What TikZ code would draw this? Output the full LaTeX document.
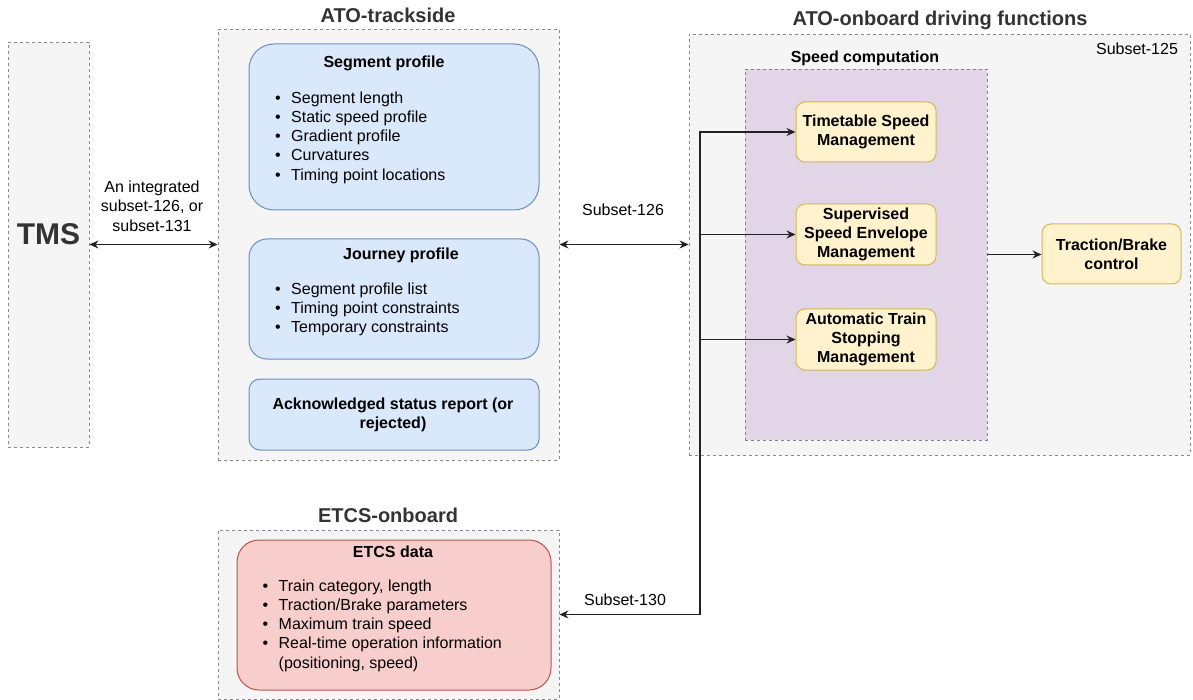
\documentclass[tikz,border=0pt]{standalone}
\usepackage{fontspec}
\setmainfont{Liberation Sans}
\usetikzlibrary{arrows.meta,fit}

\definecolor{cfill}{HTML}{F5F5F5}
\definecolor{cline}{HTML}{8A8A8A}
\definecolor{ctext}{HTML}{333333}
\definecolor{bfill}{HTML}{DAE8FC}
\definecolor{bline}{HTML}{6C8EBF}
\definecolor{pfill}{HTML}{E1D5E7}
\definecolor{pline}{HTML}{9673A6}
\definecolor{yfill}{HTML}{FFF2CC}
\definecolor{yline}{HTML}{D6B656}
\definecolor{rfill}{HTML}{F8CECC}
\definecolor{rline}{HTML}{B85450}
\definecolor{wire}{HTML}{222222}

\newcommand{\lbul}{\makebox[16pt][l]{\textbullet}}

\tikzset{
  container/.style={draw=cline, fill=cfill, dash pattern=on 3pt off 3pt,
    line width=0.9pt, inner sep=0pt},
  ctitle/.style={font=\fontsize{20}{24}\selectfont\bfseries, text=ctext, inner sep=0pt},
  panel/.style={line width=1pt, inner sep=0pt},
  bluebox/.style={panel, draw=bline, fill=bfill},
  redbox/.style={panel, draw=rline, fill=rfill},
  yellowbox/.style={panel, draw=yline, fill=yfill, rounded corners=9pt,
    font=\fontsize{16}{19.3}\selectfont\bfseries, align=center},
  purplebox/.style={draw=pline, fill=pfill, dash pattern=on 3pt off 3pt,
    line width=0.9pt, inner sep=0pt},
  btitle/.style={font=\fontsize{16}{19.3}\selectfont\bfseries, inner sep=0pt},
  item/.style={font=\fontsize{16}{19.3}\selectfont, anchor=west, inner sep=0pt,
    text height=11.5pt, text depth=3.4pt},
  plain/.style={font=\fontsize{16}{19.3}\selectfont, inner sep=0pt, align=center},
  conn/.style={draw=wire, line width=1.2pt, -{Stealth[length=9pt,width=8pt,inset=3pt]}},
  biconn/.style={draw=wire, line width=1.2pt,
    {Stealth[length=9pt,width=8pt,inset=3pt]}-{Stealth[length=9pt,width=8pt,inset=3pt]}},
}

\begin{document}
\begin{tikzpicture}[x=1pt,y=-1pt]
\useasboundingbox (0,0) rectangle (1193,700);

% ---- TMS ----
\node[container, fit={(8,42) (89,447)}, font=\fontsize{30}{36}\selectfont\bfseries,
  text=ctext] (tms) {TMS};

% ---- ATO-trackside ----
\node[container, fit={(218,29) (559,460)}] (trk) {};
\node[ctitle] (trkT) at (388,15) {ATO-trackside};

\node[bluebox, rounded corners=25pt, fit={(249,44) (539,210)}] (seg) {};
\node[btitle] (segT) at (384,63) {Segment profile};
\foreach \t [count=\i] in {Segment length, Static speed profile, Gradient profile,
    Curvatures, Timing point locations}
  \node[item] (segI\i) at (275,{99+19.25*(\i-1)}) {\lbul\t};

\node[bluebox, rounded corners=18pt, fit={(249,239) (539,359)}] (jrn) {};
\node[btitle] (jrnT) at (401,255) {Journey profile};
\foreach \t [count=\i] in {Segment profile list, Timing point constraints,
    Temporary constraints}
  \node[item] (jrnI\i) at (275,{290+19.25*(\i-1)}) {\lbul\t};

\node[bluebox, rounded corners=11pt, fit={(249,379) (539,450)}] (ack) {};
\node[btitle, align=center] (ackT) at (393,415)
  {Acknowledged status report (or\\rejected)};

% ---- ETCS-onboard ----
\node[container, fit={(218,530) (559,699)}] (etc) {};
\node[ctitle] (etcT) at (388,515) {ETCS-onboard};

\node[redbox, rounded corners=22pt, fit={(237,540) (551,690)}] (etd) {};
\node[btitle] (etdT) at (393,552) {ETCS data};
\foreach \t [count=\i] in {{Train category, length}, Traction/Brake parameters,
    Maximum train speed, Real-time operation information}
  \node[item] (etdI\i) at (262.5,{587+19.25*(\i-1)}) {\lbul\t};
\node[item] (etdI5) at (278.5,664.75) {(positioning, speed)};

% ---- ATO-onboard driving functions ----
\node[container, fit={(689,34) (1190,455)}] (onb) {};
\node[ctitle] (onbT) at (940,20) {ATO-onboard driving functions};
\node[plain] (s125) at (1137,49) {Subset-125};

\node[purplebox, fit={(745,69) (987,440)}] (spd) {};
\node[btitle] (spdT) at (865,58) {Speed computation};

\node[yellowbox, fit={(796,102) (936,162)}] (tt) {};
\node[btitle, align=center] at (tt) {Timetable Speed\\Management};
\node[yellowbox, fit={(796,204) (936,265)}] (sse) {};
\node[btitle, align=center] at (sse) {Supervised\\Speed Envelope\\Management};
\node[yellowbox, fit={(796,309) (936,370)}] (ats) {};
\node[btitle, align=center] at (ats) {Automatic Train\\Stopping\\Management};

\node[yellowbox, fit={(1042,224) (1181,284)}] (tbc) {};
\node[btitle, align=center] at (tbc) {Traction/Brake\\control};

% ---- connectors ----
\draw[biconn] (tms.east) -- (trk.west);
\node[plain] (lblA) at (152,206) {An integrated\\subset-126, or\\subset-131};

\draw[biconn] (trk.east) -- (onb.west);
\node[plain] (lbl126) at (623,210) {Subset-126};

\draw[conn] (spd.east) -- (spd.east -| tbc.west);

% distribution bus feeding the speed functions and the ETCS link
\coordinate (bus) at (700,614.5);
\draw[conn] (bus) -- (bus |- tt.west) -- (tt.west);
\draw[conn] (sse.west -| bus) -- (sse.west);
\draw[conn] (ats.west -| bus) -- (ats.west);
\draw[conn] (bus) -- (etc.east);
\node[plain] (lbl130) at (625,600) {Subset-130};

\end{tikzpicture}
\end{document}
